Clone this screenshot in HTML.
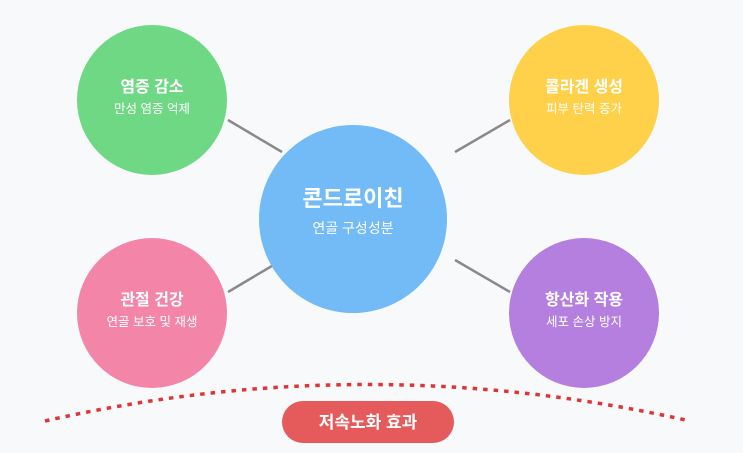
<!DOCTYPE html>
<html><head><meta charset="utf-8"><style>
html,body{margin:0;padding:0;background:#f8f9fb;}
svg{display:block}
text{font-family:"Liberation Sans","Noto Sans CJK KR",sans-serif;fill:#fff;text-anchor:middle}
</style></head><body>
<svg width="743" height="453" viewBox="0 0 743 453">
<rect width="743" height="453" fill="#f8f9fb"/>
<g stroke="#8a8a8a" stroke-width="2.5">
<line x1="228" y1="120" x2="282" y2="152"/>
<line x1="455" y1="152" x2="510" y2="120"/>
<line x1="228" y1="292" x2="282" y2="260"/>
<line x1="455" y1="260" x2="510" y2="292"/>
</g>
<path d="M45,421 Q367,348 690,421" fill="none" stroke="#e03535" stroke-width="3.5" stroke-dasharray="4.5,6"/>
<circle cx="353" cy="219" r="94" fill="#72bbf7"/>
<circle cx="152" cy="100" r="75" fill="#6fd884"/>
<circle cx="584" cy="100" r="75" fill="#ffd04a"/>
<circle cx="152" cy="313" r="75" fill="#f285a8"/>
<circle cx="584" cy="313" r="75" fill="#b57fe0"/>
<text x="353" y="206" font-size="22" font-weight="bold">콘드로이친</text>
<text x="353" y="233" font-size="14">연골 구성성분</text>
<text x="152" y="92" font-size="16" font-weight="bold">염증 감소</text>
<text x="152" y="113" font-size="12.5">만성 염증 억제</text>
<text x="584" y="92" font-size="16" font-weight="bold">콜라겐 생성</text>
<text x="584" y="113" font-size="12.5">피부 탄력 증가</text>
<text x="152" y="305" font-size="16" font-weight="bold">관절 건강</text>
<text x="152" y="326" font-size="12.5">연골 보호 및 재생</text>
<text x="584" y="305" font-size="16" font-weight="bold">항산화 작용</text>
<text x="584" y="326" font-size="12.5">세포 손상 방지</text>
<rect x="282" y="401" width="172" height="42" rx="21" fill="#e55a5a"/>
<text x="368" y="428" font-size="17" font-weight="bold">저속노화 효과</text>
</svg>
</body></html>
